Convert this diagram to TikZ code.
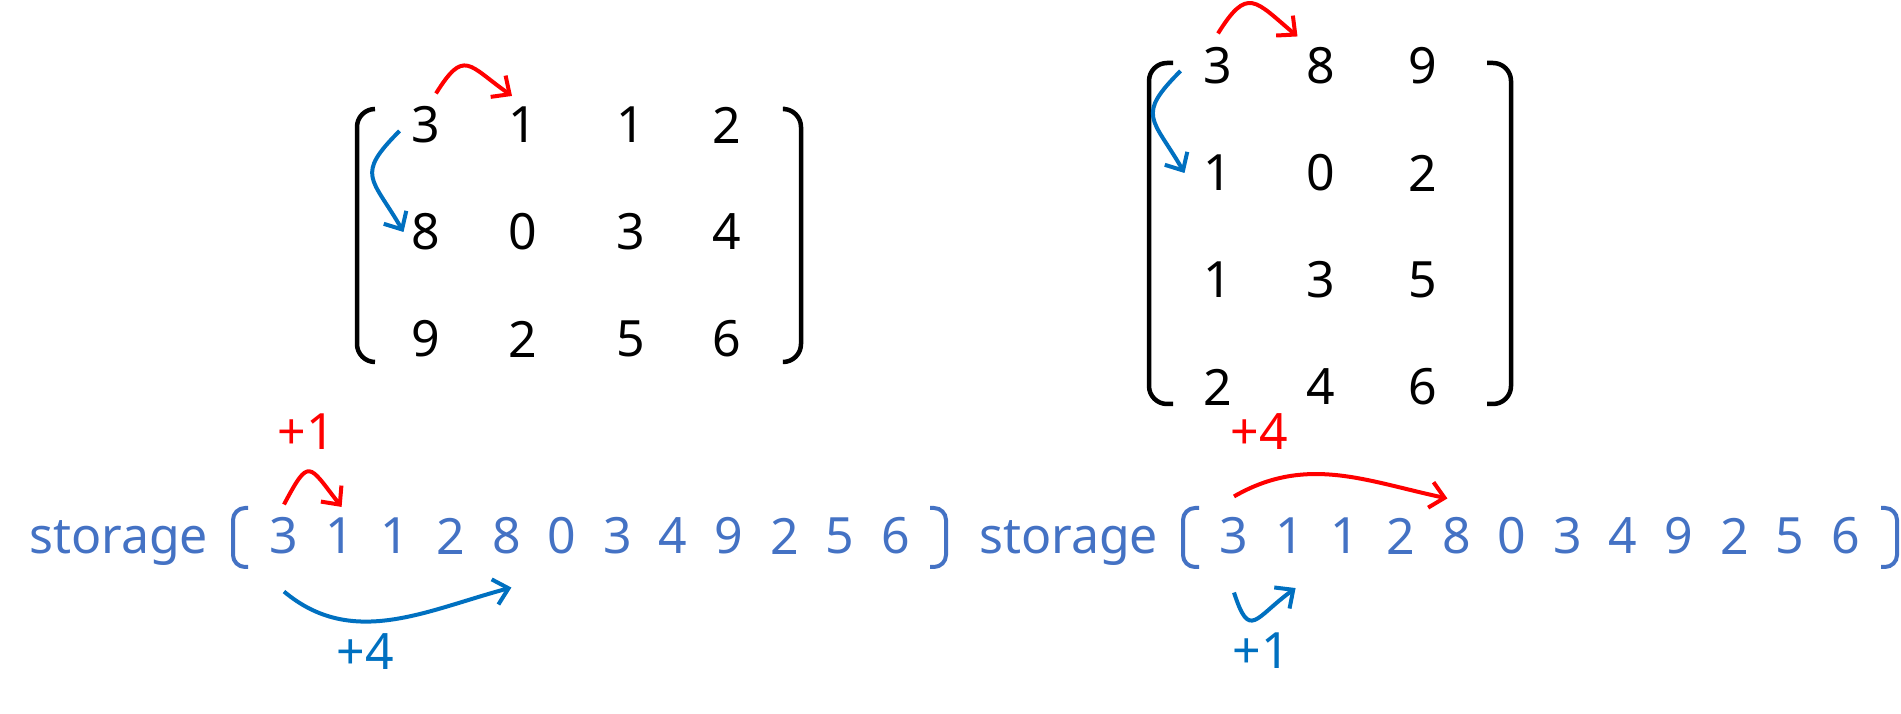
\documentclass[tikz,border=0pt]{standalone}
\usepackage{fontspec}
\setmainfont{Noto Sans}
\usetikzlibrary{arrows.meta,positioning}
\definecolor{storeblue}{HTML}{4472C4}
\definecolor{arrowblue}{HTML}{0070C0}
\definecolor{arrowred}{HTML}{FF0000}

\begin{document}
\begin{tikzpicture}[x=1pt,y=1pt,node distance=100pt,
				main node/.style = {inner sep = 0pt, font=\fontsize{50pt}{60pt}\selectfont},
				store node/.style = {main node, text=storeblue},
				red arrow/.style = {draw=arrowred, line width=4pt, -{Straight Barb[length=14pt,width=26pt]}},
				blue arrow/.style = {draw=arrowblue, line width=4pt, -{Straight Barb[length=14pt,width=26pt]}},
				bracket/.style = {line width=4.5pt, rounded corners=18pt},
				store bracket/.style = {draw=storeblue, line width=4pt, rounded corners=12pt}]
				
				\useasboundingbox (0,0) rectangle (1901,714);
				
				% row major matrix
				\node[main node] at (426,589) (a11) {3};
				\node[main node,node distance=97pt] [right of = a11](a12) {1};
				\node[main node,node distance=108pt] [right of = a12](a13) {1};
				\node[main node,node distance=96pt] [right of = a13](a14) {2};
				\node[main node,node distance=107pt] [below of = a11](a21) {8};
				\node[main node,node distance=97pt] [right of = a21](a22) {0};
				\node[main node,node distance=108pt] [right of = a22](a23) {3};
				\node[main node,node distance=96pt] [right of = a23](a24) {4};
				\node[main node,node distance=107pt] [below of = a21](a31) {9};
				\node[main node,node distance=97pt] [right of = a31](a32) {2};
				\node[main node,node distance=108pt] [right of = a32](a33) {5};
				\node[main node,node distance=96pt] [right of = a33](a34) {6};
				\draw[bracket] (375,605) -- (357,605) -- (357,352) -- (375,352);
				\draw[bracket] (785,605) -- (801,605) -- (801,352) -- (785,352);
				
				% column major matrix
				\begin{scope}[node distance=102.5pt]
				\node[main node] at (1218,648) (b11) {3};
				\node[main node] [right of = b11](b12) {8};
				\node[main node] [right of = b12](b13) {9};
				\node[main node,node distance=107pt] [below of = b11](b21) {1};
				\node[main node] [right of = b21](b22) {0};
				\node[main node] [right of = b22](b23) {2};
				\node[main node,node distance=107pt] [below of = b21](b31) {1};
				\node[main node] [right of = b31](b32) {3};
				\node[main node] [right of = b32](b33) {5};
				\node[main node,node distance=107pt] [below of = b31](b41) {2};
				\node[main node] [right of = b41](b42) {4};
				\node[main node] [right of = b42](b43) {6};
				\end{scope}
				\draw[bracket] (1173,651) -- (1149,651) -- (1149,310) -- (1173,310);
				\draw[bracket] (1487,651) -- (1511,651) -- (1511,310) -- (1487,310);
				
				% storage rows
				\begin{scope}[node distance=55.6pt]
				\node[store node,anchor=base west] at (29,160) (w1) {storage};
				\node[store node] at (284,178) (s1) {3};
				\node[store node] [right of = s1](s2) {1};
				\node[store node] [right of = s2](s3) {1};
				\node[store node] [right of = s3](s4) {2};
				\node[store node] [right of = s4](s5) {8};
				\node[store node] [right of = s5](s6) {0};
				\node[store node] [right of = s6](s7) {3};
				\node[store node] [right of = s7](s8) {4};
				\node[store node] [right of = s8](s9) {9};
				\node[store node] [right of = s9](s10) {2};
				\node[store node] [right of = s10](s11) {5};
				\node[store node] [right of = s11](s12) {6};
				
				\node[store node,anchor=base west] at (979,160) (w2) {storage};
				\node[store node] at (1234,178) (t1) {3};
				\node[store node] [right of = t1](t2) {1};
				\node[store node] [right of = t2](t3) {1};
				\node[store node] [right of = t3](t4) {2};
				\node[store node] [right of = t4](t5) {8};
				\node[store node] [right of = t5](t6) {0};
				\node[store node] [right of = t6](t7) {3};
				\node[store node] [right of = t7](t8) {4};
				\node[store node] [right of = t8](t9) {9};
				\node[store node] [right of = t9](t10) {2};
				\node[store node] [right of = t10](t11) {5};
				\node[store node] [right of = t11](t12) {6};
				\end{scope}
				\draw[store bracket] (248,206) -- (233,206) -- (233,147) -- (248,147);
				\draw[store bracket] (930,206) -- (946,206) -- (946,147) -- (930,147);
				\draw[store bracket] (1199,206) -- (1183,206) -- (1183,147) -- (1199,147);
				\draw[store bracket] (1881,206) -- (1897,206) -- (1897,147) -- (1881,147);
				
				\node[main node,text=arrowred] at (306,282) (l1) {+1};
				\node[main node,text=arrowblue] at (365,62) (l2) {+4};
				\node[main node,text=arrowred] at (1259,282) (l3) {+4};
				\node[main node,text=arrowblue] at (1261,63) (l4) {+1};
				
				\draw[red arrow] ([xshift=10pt,yshift=13pt]a11.north) to[out=58,in=145,looseness=1.8] ([xshift=-11pt,yshift=11pt]a12.north);
				\draw[blue arrow] ([xshift=-12pt,yshift=-6pt]a11.west) to[out=225,in=120,looseness=1.6] ([xshift=-8pt]a21.west);
				\draw[red arrow] ([yshift=14pt]b11.north) to[out=58,in=140,looseness=1.8] ([xshift=-23pt,yshift=11pt]b12.north);
				\draw[blue arrow] ([xshift=-23pt,yshift=-5pt]b11.west) to[out=225,in=120,looseness=1.6] ([xshift=-19pt]b21.west);
				
				\draw[red arrow] ([yshift=13pt]s1.north) to[out=62,in=128,looseness=2.4] ([xshift=2pt,yshift=11pt]s2.north);
				\draw[blue arrow] ([yshift=-37pt]s1.south) to[out=-40,in=195] ([xshift=5pt,yshift=-33pt]s5.south);
				\draw[red arrow] ([yshift=21pt]t1.north) to[out=30,in=168] ([xshift=-9pt,yshift=19pt]t5.north);
				\draw[blue arrow] ([yshift=-38pt]t1.south) to[out=-72,in=216,looseness=2.1] ([xshift=6pt,yshift=-34pt]t2.south);
				
				\end{tikzpicture}
\end{document}
